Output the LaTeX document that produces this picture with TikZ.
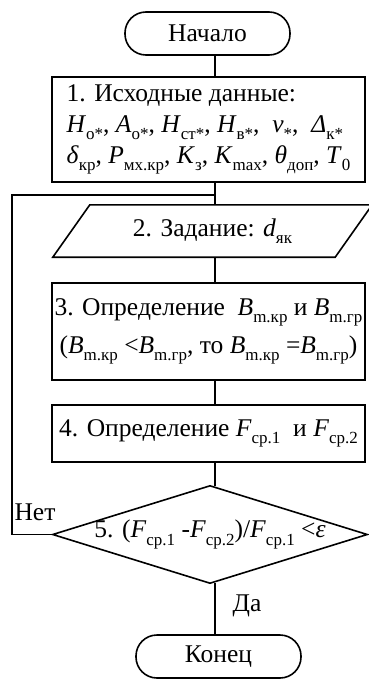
\documentclass[tikz,border=0pt]{standalone}
\usepackage{fontspec}
\setmainfont{Liberation Serif}
\usetikzlibrary{calc}
\newcommand\iv[2]{\textit{#1}\raisebox{-.3em}{\fontsize{17}{17}\selectfont #2}}
\tikzset{
  ln/.style={line width=1.6pt,black},
  txt/.style={font=\fontsize{25.5}{31}\selectfont},
  term/.style={draw,ln,txt,rectangle,rounded corners=21pt,minimum width=165pt,minimum height=43pt,inner sep=0pt},
  blk/.style={draw,ln,txt,rectangle,minimum width=313pt,inner sep=1pt,align=center},
  shp/.style={txt,inner sep=0pt}
}

\begin{document}
\begin{tikzpicture}[x=1pt,y=-1pt]
\useasboundingbox (0,0) rectangle (368,680);
\coordinate (axis) at (215,0);
\node[term] (start) at (207.5,33.5) {Начало};
\node[blk,minimum height=105pt,align=left,font=\fontsize{25.5}{31}\selectfont] (b1) at (208.5,129.5)
  {1. Исходные данные:\\
   \iv{H}{о*}, \iv{A}{о*}, \iv{H}{ст*}, \iv{H}{в*}, \ \iv{ν}{*}, \ \iv{Δ}{к*}\\
   \iv{δ}{кр}, \iv{P}{мх.кр}, \iv{K}{з}, \iv{K}{max}, \iv{θ}{доп}, \iv{T}{0}};
% parallelogram
\node[shp,minimum width=319pt,minimum height=52pt] (b2) at (212.5,231) {2. Задание: \iv{d}{як}};
\draw[ln] (b2.south west) -- ([xshift=-37pt]b2.south east) -- (b2.north east)
  -- ([xshift=37pt]b2.north west) -- cycle;
\node[blk,minimum height=97pt,font=\fontsize{25.5}{38}\selectfont] (b3) at (208.5,331.5)
  {3. Определение \ \iv{B}{m.кр} и \iv{B}{m.гр}\\
   (\iv{B}{m.кр} <\iv{B}{m.гр}, то \iv{B}{m.кр} =\iv{B}{m.гр})};
\node[blk,minimum height=57pt] (b4) at (208.5,433.5)
  {4. Определение \iv{F}{ср.1} \ и \iv{F}{ср.2}};
% decision
\node[shp,minimum width=314pt,minimum height=97pt] (dec) at (210,534.5)
  {5. (\iv{F}{ср.1} -\iv{F}{ср.2})/\iv{F}{ср.1} <\textit{ε}};
\draw[ln] (dec.north) -- (dec.east) -- (dec.south) -- (dec.west) -- cycle;
\node[term] (stop) at (218.5,656.5) {Конец};
\node[txt] (no) at (35,512) {Нет};
\node[txt] (yes) at (247,606) {Да};
% connectors
\coordinate (jn) at (215,195);
\coordinate (lp) at (12,195);
\draw[ln] (start.south -| axis) -- (b1.north -| axis);
\draw[ln] (b1.south -| axis) -- (b2.north -| axis);
\draw[ln] (b2.south -| axis) -- (b3.north -| axis);
\draw[ln] (b3.south -| axis) -- (b4.north -| axis);
\draw[ln] (b4.south -| axis) -- (dec.north -| axis);
\draw[ln] (dec.south -| axis) -- (stop.north -| axis);
\draw[ln] (dec.west) -| (lp) -- (jn);
\end{tikzpicture}
\end{document}
